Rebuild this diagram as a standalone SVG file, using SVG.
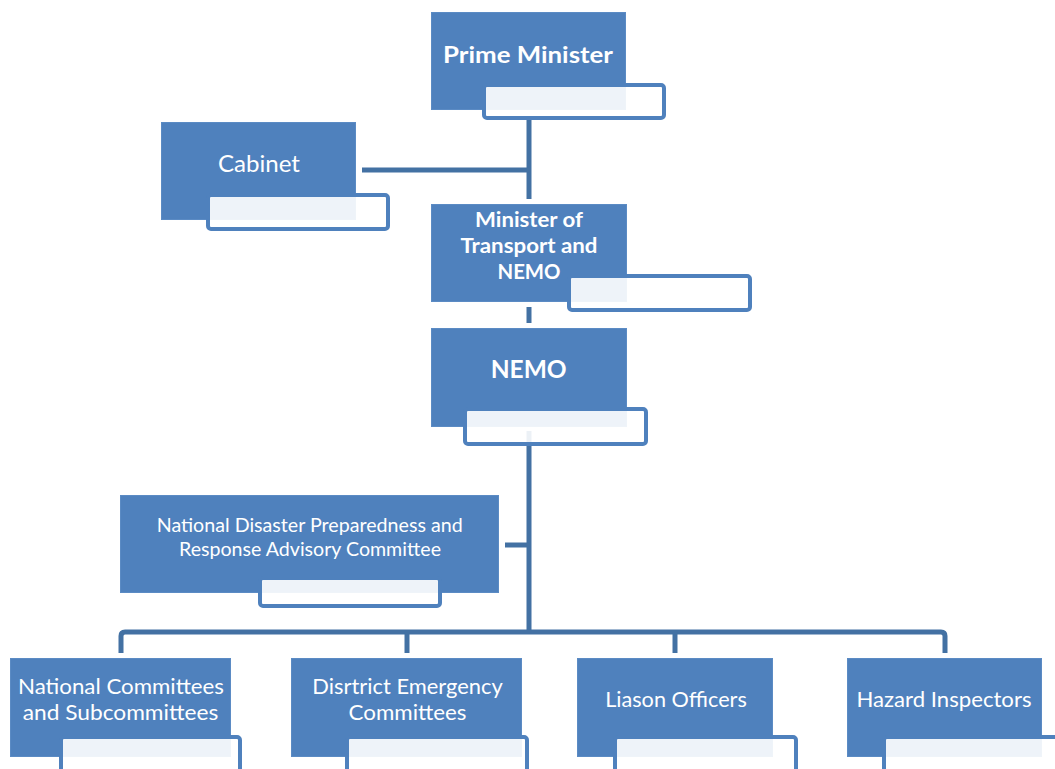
<svg xmlns="http://www.w3.org/2000/svg" width="1055" height="769" viewBox="0 0 1055 769">
<style>
.main{fill:#4F81BD;stroke:#5B8BC4;stroke-width:1}
.sub{fill:#FFFFFF;fill-opacity:0.9;stroke:#4F81BD;stroke-width:4}
.con{fill:none;stroke:#4371A3;stroke-width:5;stroke-linejoin:round}
text{font-family:Lato,"Open Sans","Liberation Sans",sans-serif;fill:#FFFFFF;text-anchor:middle}
.b{font-weight:bold}
</style>
<rect width="1055" height="769" fill="#FFFFFF"/>
<g id="connectors">
<path class="con" d="M529,118 V199"/>
<path class="con" d="M362,170 H529"/>
<path class="con" d="M529,307 V323"/>
<path class="con" d="M529,431 V632"/>
<path class="con" d="M505,545 H529"/>
<path class="con" d="M121,653 V636 Q121,632 125,632 H941 Q945,632 945,636 V653"/>
<path class="con" d="M407,632 V653"/>
<path class="con" d="M675,632 V653"/>
</g>
<g id="prime-minister">
<rect class="main" x="431.5" y="12.5" width="194" height="97"/>
<rect class="sub" x="484" y="85" width="180" height="33" rx="3"/>
<text class="b" x="528" y="63" font-size="22" textLength="170" lengthAdjust="spacingAndGlyphs">Prime Minister</text>
</g>
<g id="cabinet">
<rect class="main" x="161.5" y="122.5" width="194" height="97"/>
<rect class="sub" x="208" y="195" width="180" height="34" rx="3"/>
<text x="259" y="171.5" font-size="23" textLength="82" lengthAdjust="spacingAndGlyphs">Cabinet</text>
</g>
<g id="minister-transport">
<rect class="main" x="431.5" y="204.5" width="195" height="97"/>
<rect class="sub" x="569" y="276" width="181" height="34" rx="3"/>
<text class="b" x="529" y="227" font-size="21" textLength="108" lengthAdjust="spacingAndGlyphs">Minister of</text>
<text class="b" x="529" y="253" font-size="21" textLength="137" lengthAdjust="spacingAndGlyphs">Transport and</text>
<text class="b" x="529" y="278.5" font-size="21" textLength="63" lengthAdjust="spacingAndGlyphs">NEMO</text>
</g>
<g id="nemo">
<rect class="main" x="431.5" y="328.5" width="195" height="98"/>
<rect class="sub" x="465" y="409" width="181" height="35" rx="3"/>
<text class="b" x="528.7" y="378.3" font-size="24" textLength="76" lengthAdjust="spacingAndGlyphs">NEMO</text>
</g>
<g id="ndprac">
<rect class="main" x="120.5" y="495.5" width="378" height="97"/>
<rect class="sub" x="260" y="578" width="180" height="28" rx="3"/>
<text x="309.7" y="532.3" font-size="19.5" textLength="306" lengthAdjust="spacingAndGlyphs">National Disaster Preparedness and</text>
<text x="310" y="556" font-size="19.5" textLength="262" lengthAdjust="spacingAndGlyphs">Response Advisory Committee</text>
</g>
<g id="national-committees">
<rect class="main" x="10.5" y="658.5" width="220" height="98"/>
<rect class="sub" x="61" y="737" width="179" height="40" rx="3"/>
<text x="121" y="694" font-size="20.5" textLength="206" lengthAdjust="spacingAndGlyphs">National Committees</text>
<text x="120.5" y="720" font-size="20.5" textLength="195.6" lengthAdjust="spacingAndGlyphs">and Subcommittees</text>
</g>
<g id="district-committees">
<rect class="main" x="291.5" y="658.5" width="230" height="98"/>
<rect class="sub" x="347" y="737" width="180" height="40" rx="3"/>
<text x="407.5" y="694" font-size="20.5" textLength="190.4" lengthAdjust="spacingAndGlyphs">Disrtrict Emergency</text>
<text x="407.5" y="720" font-size="20.5" textLength="118" lengthAdjust="spacingAndGlyphs">Committees</text>
</g>
<g id="liason-officers">
<rect class="main" x="577.5" y="658.5" width="195" height="98"/>
<rect class="sub" x="615" y="737" width="181" height="40" rx="3"/>
<text x="676" y="707.3" font-size="20.5" textLength="141.7" lengthAdjust="spacingAndGlyphs">Liason Officers</text>
</g>
<g id="hazard-inspectors">
<rect class="main" x="847.5" y="658.5" width="194" height="98"/>
<rect class="sub" x="884" y="737" width="181" height="40" rx="3"/>
<text x="944" y="707.3" font-size="20.5" textLength="175" lengthAdjust="spacingAndGlyphs">Hazard Inspectors</text>
</g>
</svg>
